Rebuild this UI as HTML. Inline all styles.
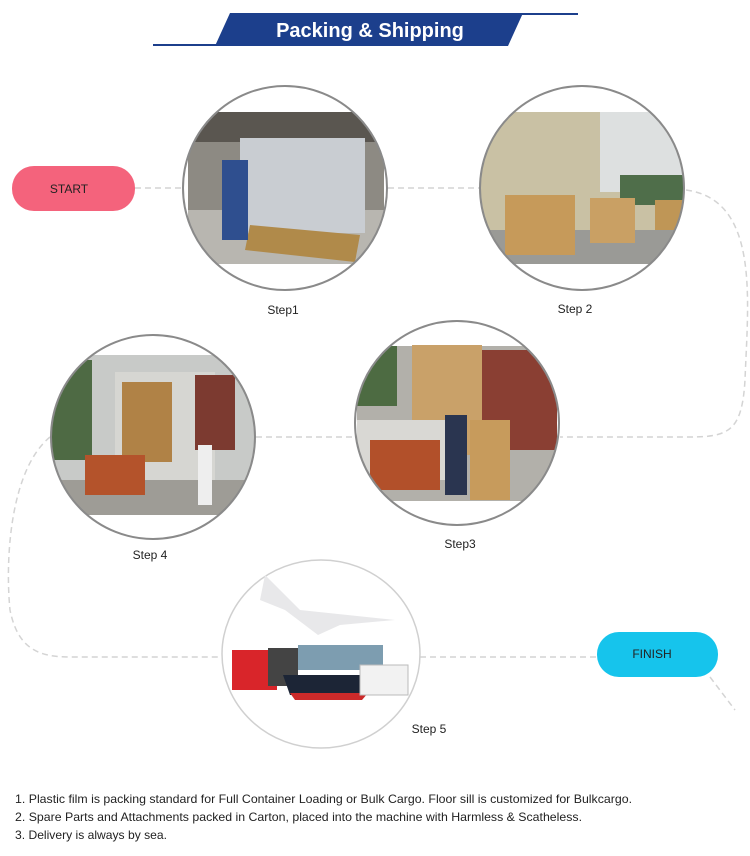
<!DOCTYPE html>
<html><head><meta charset="utf-8"><style>
html,body{margin:0;padding:0;background:#fff}
svg{display:block}
text{font-family:"Liberation Sans",sans-serif}
</style></head><body>
<svg width="750" height="856" viewBox="0 0 750 856" xmlns="http://www.w3.org/2000/svg">
<defs>
<clipPath id="c1"><circle cx="285" cy="188" r="102"/></clipPath>
<clipPath id="c2"><circle cx="582" cy="188" r="102"/></clipPath>
<clipPath id="c3"><circle cx="457" cy="423" r="102"/></clipPath>
<clipPath id="c4"><circle cx="153" cy="437" r="102"/></clipPath>
</defs>
<!-- header -->
<line x1="153" y1="45" x2="225" y2="45" stroke="#1c3f8c" stroke-width="2"/>
<line x1="510" y1="14" x2="578" y2="14" stroke="#1c3f8c" stroke-width="2"/>
<polygon points="230,13 523,13 508,46 215,46" fill="#1c3f8c"/>
<text x="370" y="37" text-anchor="middle" font-size="20" font-weight="bold" fill="#fff">Packing &amp; Shipping</text>

<!-- dashed connectors -->
<g fill="none" stroke="#d4d4d4" stroke-width="1.5" stroke-dasharray="6,4">
<line x1="135" y1="188" x2="182" y2="188"/>
<line x1="388" y1="188" x2="480" y2="188"/>
<path d="M686,190 C760,200 748,300 745,380 C742,430 730,437 690,437 L560,437"/>
<line x1="256" y1="437" x2="355" y2="437"/>
<path d="M50,437 C10,470 5,560 10,610 C18,650 40,657 70,657 L222,657"/>
<line x1="420" y1="657" x2="597" y2="657"/>
<path d="M710,677 L735,710"/>
</g>

<!-- pills -->
<rect x="12" y="166" width="123" height="45" rx="22" fill="#f4637c"/>
<text x="69" y="193" text-anchor="middle" font-size="12" fill="#222">START</text>
<rect x="597" y="632" width="121" height="45" rx="22" fill="#16c4ec"/>
<text x="652" y="658" text-anchor="middle" font-size="12" fill="#222">FINISH</text>

<!-- step1 -->
<circle cx="285" cy="188" r="102" fill="#fff"/>
<g clip-path="url(#c1)">
<rect x="188" y="112" width="196" height="152" fill="#8d8a83"/>
<rect x="188" y="112" width="196" height="30" fill="#5a5650"/>
<rect x="188" y="210" width="196" height="54" fill="#b8b6b0"/>
<rect x="240" y="138" width="125" height="95" fill="#c9cdd2"/>
<polygon points="250,225 360,235 355,262 245,250" fill="#b08a4a"/>
<rect x="222" y="160" width="26" height="80" fill="#2f4f8f"/>
</g>
<circle cx="285" cy="188" r="102" fill="none" stroke="#8a8a8a" stroke-width="2"/>
<text x="283" y="314" text-anchor="middle" font-size="12" fill="#222">Step1</text>

<!-- step2 -->
<circle cx="582" cy="188" r="102" fill="#fff"/>
<g clip-path="url(#c2)">
<rect x="480" y="112" width="206" height="152" fill="#c9c1a4"/>
<rect x="600" y="112" width="86" height="80" fill="#dde0e0"/>
<rect x="620" y="175" width="66" height="30" fill="#4f6e4a"/>
<rect x="480" y="230" width="206" height="34" fill="#9a9a96"/>
<rect x="505" y="195" width="70" height="60" fill="#c69a5a"/>
<rect x="590" y="198" width="45" height="45" fill="#c9a064"/>
<rect x="655" y="200" width="28" height="30" fill="#bf9656"/>
</g>
<circle cx="582" cy="188" r="102" fill="none" stroke="#8a8a8a" stroke-width="2"/>
<text x="575" y="313" text-anchor="middle" font-size="12" fill="#222">Step 2</text>

<!-- step3 -->
<circle cx="457" cy="423" r="102" fill="#fff"/>
<g clip-path="url(#c3)">
<rect x="357" y="346" width="200" height="155" fill="#b2b0aa"/>
<rect x="357" y="346" width="40" height="60" fill="#4d6b42"/>
<rect x="480" y="350" width="77" height="100" fill="#8a3f33"/>
<rect x="412" y="345" width="70" height="110" fill="#c9a169"/>
<rect x="357" y="420" width="90" height="60" fill="#d9d8d4"/>
<rect x="370" y="440" width="70" height="50" fill="#b2502a"/>
<rect x="470" y="420" width="40" height="80" fill="#c79b5c"/>
<rect x="445" y="415" width="22" height="80" fill="#2a3550"/>
</g>
<circle cx="457" cy="423" r="102" fill="none" stroke="#8a8a8a" stroke-width="2"/>
<text x="460" y="548" text-anchor="middle" font-size="12" fill="#222">Step3</text>

<!-- step4 -->
<circle cx="153" cy="437" r="102" fill="#fff"/>
<g clip-path="url(#c4)">
<rect x="52" y="355" width="202" height="160" fill="#c8cac8"/>
<rect x="52" y="360" width="40" height="100" fill="#4e6a44"/>
<rect x="115" y="372" width="100" height="110" fill="#d6d6d2"/>
<rect x="122" y="382" width="50" height="80" fill="#b08246"/>
<rect x="195" y="375" width="40" height="75" fill="#7c3a30"/>
<rect x="52" y="480" width="202" height="35" fill="#9e9c96"/>
<rect x="85" y="455" width="60" height="40" fill="#b4532b"/>
<rect x="198" y="445" width="14" height="60" fill="#eee"/>
</g>
<circle cx="153" cy="437" r="102" fill="none" stroke="#8a8a8a" stroke-width="2"/>
<text x="150" y="559" text-anchor="middle" font-size="12" fill="#222">Step 4</text>

<!-- step5 -->
<ellipse cx="321" cy="654" rx="99" ry="94" fill="#fff" stroke="#d0d0d0" stroke-width="1.5"/>
<polygon points="265,575 300,610 395,620 340,625 318,635 285,610 260,600" fill="#e8e8ea"/>
<rect x="232" y="650" width="45" height="40" fill="#d9252a"/>
<rect x="268" y="648" width="30" height="38" fill="#444"/>
<rect x="298" y="645" width="85" height="25" fill="#7d9db0"/>
<polygon points="283,675 380,675 368,695 290,695" fill="#1c2536"/>
<polygon points="290,693 368,693 362,700 295,700" fill="#cc2a2a"/>
<rect x="360" y="665" width="48" height="30" fill="#f2f2f2" stroke="#bbb"/>
<text x="429" y="733" text-anchor="middle" font-size="12" fill="#222">Step 5</text>

<!-- notes -->
<g font-size="12" fill="#222">
<text x="15" y="803" textLength="617" lengthAdjust="spacingAndGlyphs">1. Plastic film is packing standard for Full Container Loading or Bulk Cargo. Floor sill is customized for Bulkcargo.</text>
<text x="15" y="821" textLength="567" lengthAdjust="spacingAndGlyphs">2. Spare Parts and Attachments packed in Carton, placed into the machine with Harmless &amp; Scatheless.</text>
<text x="15" y="839" textLength="152" lengthAdjust="spacingAndGlyphs">3. Delivery is always by sea.</text>
</g>
</svg>
</body></html>
